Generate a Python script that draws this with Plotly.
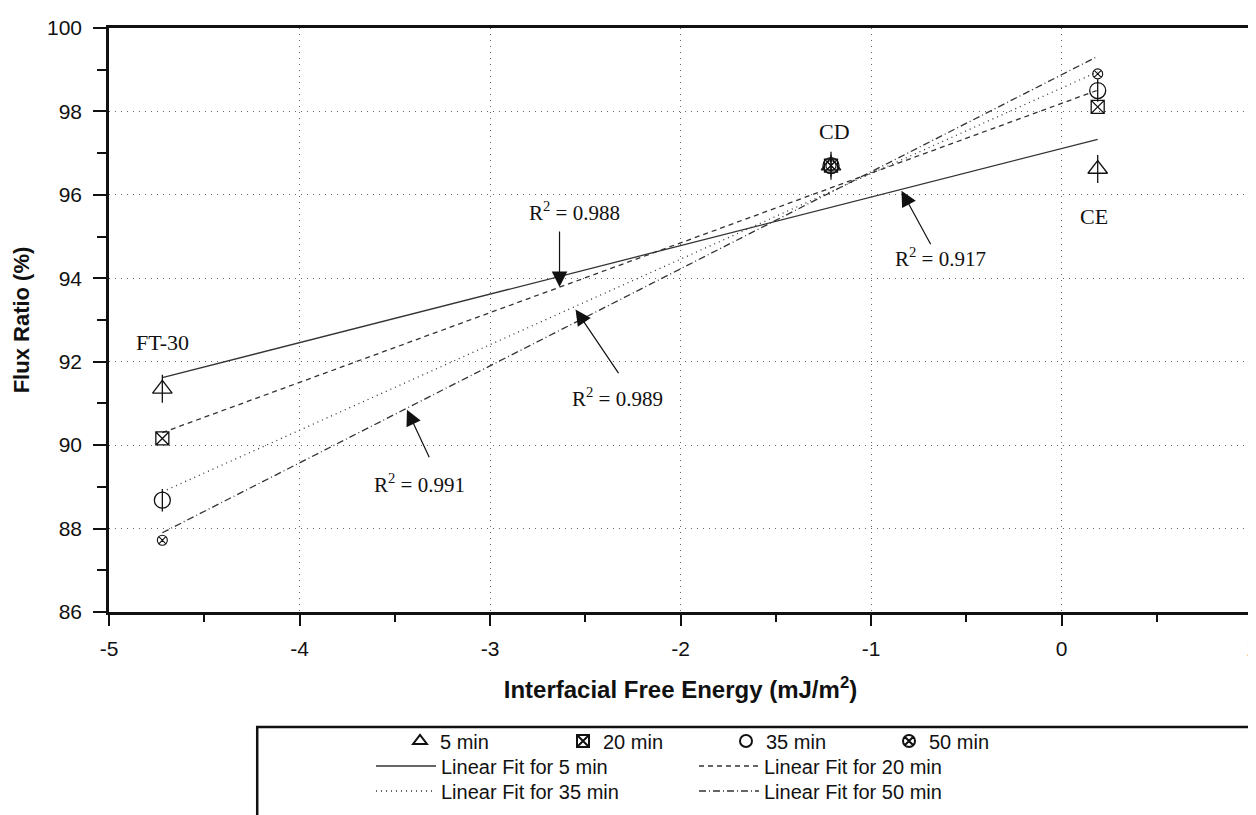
import plotly.graph_objects as go

# ---------------- data ----------------
energy = [-4.72, -1.21, 0.19]          # interfacial free energy (mJ/m2)
membranes = ["FT-30", "CD", "CE"]
flux_5 = [91.35, 96.70, 96.62]
flux_20 = [90.16, 96.70, 98.11]
flux_35 = [88.68, 96.70, 98.50]
flux_50 = [87.72, 96.70, 98.90]

fit_x = [-4.72, 0.19]
fit_5 = [91.62, 97.33]
fit_20 = [90.30, 98.51]
fit_35 = [88.88, 98.95]
fit_50 = [87.90, 99.32]

r2_5 = "0.917"
r2_20 = "0.988"
r2_35 = "0.989"
r2_50 = "0.991"

x_ticks = [-5, -4, -3, -2, -1, 0, 1]
y_ticks = [86, 88, 90, 92, 94, 96, 98, 100]

SANS = "Liberation Sans, Arial, sans-serif"
SERIF = "Liberation Serif, Times New Roman, serif"
INK = "#111111"
LINE = "#333333"

W, H = 1256, 815
OFF = 8  # page offset of the figure
ML, MR, MT, MB = 101, 6, 20, 211
PW = W - ML - MR
PH = H - MT - MB


def cy(py):  # screen y -> container fraction
    return 1 - (py - OFF) / H


def cx(px):  # screen x -> container fraction
    return (px - OFF) / W


fig = go.Figure()

# ---------------- fit lines ----------------
fits = [
    (fit_5, "solid", "Linear Fit for 5 min", "legend2"),
    (fit_20, "5px,4px", "Linear Fit for 20 min", "legend2"),
    (fit_35, "1px,4px", "Linear Fit for 35 min", "legend3"),
    (fit_50, "7px,3px,1px,3px", "Linear Fit for 50 min", "legend3"),
]
for ys, dash, name, lg in fits:
    fig.add_trace(go.Scatter(
        x=fit_x, y=ys, mode="lines", name=name, legend=lg,
        line=dict(color=LINE, width=1.3, dash=dash),
    ))

# ---------------- markers ----------------
mk_line = dict(color=INK, width=1.3)
fig.add_trace(go.Scatter(x=energy, y=flux_5, mode="markers", name="5 min", legend="legend",
                         marker=dict(symbol="triangle-up-open", size=17, color=INK, line=mk_line)))
fig.add_trace(go.Scatter(x=energy, y=flux_5, mode="markers", showlegend=False, hoverinfo="skip",
                         marker=dict(symbol="line-ns-open", size=20, color=INK, line=mk_line)))
fig.add_trace(go.Scatter(x=energy, y=flux_20, mode="markers", name="20 min", legend="legend",
                         marker=dict(symbol="square-x-open", size=13, color=INK, line=mk_line)))
fig.add_trace(go.Scatter(x=energy, y=flux_35, mode="markers", name="35 min", legend="legend",
                         marker=dict(symbol="circle-open", size=16, color=INK, line=mk_line)))
fig.add_trace(go.Scatter(x=energy, y=flux_35, mode="markers", showlegend=False, hoverinfo="skip",
                         marker=dict(symbol="line-ns-open", size=16, color=INK, line=mk_line)))
fig.add_trace(go.Scatter(x=energy, y=flux_50, mode="markers", name="50 min", legend="legend",
                         marker=dict(symbol="circle-x-open", size=10, color=INK, line=dict(color=INK, width=1.1))))

# ---------------- annotations ----------------
ann = []
label_pos = [(-4.72, 92.45), (-1.19, 97.53), (0.17, 95.49)]
for txt, (ax_, ay_) in zip(membranes, label_pos):
    ann.append(dict(x=ax_, y=ay_, text=txt, showarrow=False,
                    font=dict(family=SERIF, size=22, color=INK)))

r2_items = [
    (r2_20, (-2.556, 95.59), (-2.635, 93.79), 0, -57),
    (r2_5, (-0.634, 94.51), (-0.84, 96.10), 30, 55),
    (r2_35, (-2.331, 91.15), (-2.551, 93.25), 44, 65),
    (r2_50, (-3.368, 89.09), (-3.436, 90.85), 23, 49),
]
for val, (tx, ty), (hx, hy), dx, dy in r2_items:
    ann.append(dict(x=tx, y=ty, text="R<sup>2</sup> = " + val, showarrow=False,
                    font=dict(family=SERIF, size=21, color=INK)))
    ann.append(dict(x=hx, y=hy, text="", showarrow=True, ax=dx, ay=dy,
                    arrowhead=2, arrowsize=2.6, arrowwidth=1.2, arrowcolor=INK))

leg_font = dict(family=SANS, size=20, color=INK)
fig.update_layout(
    width=W, height=H,
    margin=dict(l=ML, r=MR, t=MT, b=MB),
    paper_bgcolor="white", plot_bgcolor="white",
    font=dict(family=SANS, color=INK, size=20),
    annotations=ann,
    showlegend=True,
    legend=dict(orientation="h", xref="container", x=cx(400), xanchor="left",
                yref="container", y=cy(741), yanchor="middle",
                entrywidth=118, font=leg_font,
                bgcolor="rgba(0,0,0,0)", itemsizing="constant"),
    legend2=dict(orientation="h", xref="container", x=cx(371), xanchor="left",
                 yref="container", y=cy(766), yanchor="middle",
                 entrywidth=248, itemwidth=60, font=leg_font,
                 bgcolor="rgba(0,0,0,0)"),
    legend3=dict(orientation="h", xref="container", x=cx(371), xanchor="left",
                 yref="container", y=cy(791), yanchor="middle",
                 entrywidth=248, itemwidth=60, font=leg_font,
                 bgcolor="rgba(0,0,0,0)"),
    shapes=[dict(type="rect", xref="paper", yref="paper",
                 x0=(258 - OFF - ML) / PW, x1=1.02,
                 y0=(612 - 727) / PH, y1=-0.40,
                 line=dict(color=INK, width=2.5), fillcolor="rgba(0,0,0,0)")],
)

grid = dict(showgrid=True, gridcolor="#666666", griddash="1px,5px", gridwidth=1.2)
fig.update_xaxes(
    range=[-5, 1], tickvals=x_ticks, ticktext=[str(v) for v in x_ticks],
    showline=True, linecolor=INK, linewidth=2.5, mirror=True,
    ticks="outside", ticklen=11, tickwidth=2, tickcolor=INK,
    minor=dict(ticks="outside", dtick=0.5, tick0=-5, ticklen=7, tickwidth=2, tickcolor=INK, showgrid=False),
    zeroline=False, ticklabelstandoff=5,
    tickfont=dict(family=SANS, size=21, color=INK),
    title=dict(text="<b>Interfacial Free Energy (mJ/m<sup>2</sup>)</b>", standoff=23,
               font=dict(family=SANS, size=24, color=INK)),
    **grid,
)
fig.update_yaxes(
    range=[86, 100], tickvals=y_ticks, ticktext=[str(v) for v in y_ticks],
    showline=True, linecolor=INK, linewidth=2.5, mirror=True,
    ticks="outside", ticklen=13, tickwidth=2, tickcolor=INK,
    minor=dict(ticks="outside", dtick=1, tick0=86, ticklen=9, tickwidth=2, tickcolor=INK, showgrid=False),
    zeroline=False, ticklabelstandoff=7,
    tickfont=dict(family=SANS, size=21, color=INK),
    title=dict(text="<b>Flux Ratio (%)</b>", standoff=12,
               font=dict(family=SANS, size=22, color=INK)),
    **grid,
)

fig.write_html("out.html")
